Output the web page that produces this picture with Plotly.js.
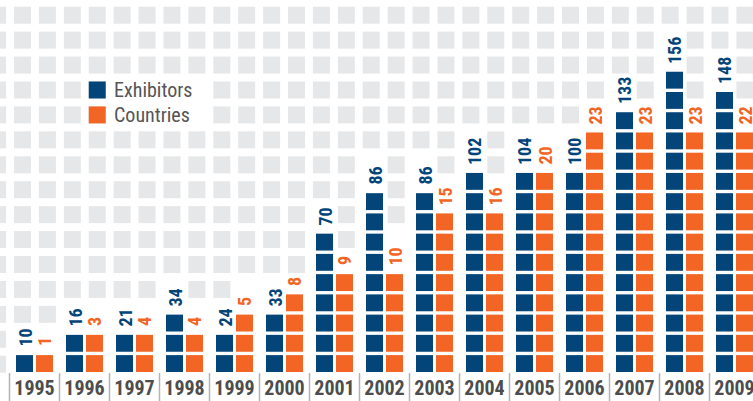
<!DOCTYPE html>
<html><head><meta charset="utf-8">
<script src="https://cdn.plot.ly/plotly-3.0.1.min.js"></script>
<style>html,body{margin:0;padding:0;background:#fff;}#chart{width:753px;height:401px;}</style>
</head><body><div id="chart"></div>
<script>
// ---- data ----
const years = ['1995','1996','1997','1998','1999','2000','2001','2002','2003','2004','2005','2006','2007','2008','2009'];
const exhibitors = [10,16,21,34,24,33,70,86,86,102,104,100,133,156,148];
const countries  = [1,3,4,4,5,8,9,10,15,16,20,23,23,23,22];
// number of stacked squares drawn for each bar (as counted in the picture)
const exhibitorBlocks = [1,2,2,3,2,3,7,9,9,10,10,10,13,15,14];
const countryBlocks   = [1,2,2,2,3,4,5,5,8,8,10,12,12,12,12];
const seriesNames  = ['Exhibitors','Countries'];
const seriesColors = ['#034479','#f26524'];

// ---- geometry / style ----
const F = '"Liberation Sans Narrow","Arial Narrow","Roboto Condensed","DejaVu Sans Condensed","Liberation Sans",sans-serif';
const W = 753, H = 401, PLOT_BOTTOM = 372;
const UNIT = 20.24, GROUP = 50, FIRST_CENTER = 34.5;
const xr0 = (0 - FIRST_CENTER) / GROUP, xr1 = (W - FIRST_CENTER) / GROUP;
const yr1 = PLOT_BOTTOM / UNIT;
const BAR_W = 17 / GROUP;
const offsets = [-18.5 / GROUP, 1.5 / GROUP];
const BLOCK_H = 16.9 / UNIT;
const DIGIT_PX = 8.3, LABEL_GAP_PX = 9;
const GRAY = '#e6e7e8';

const idx = years.map((_, i) => i);
const seriesVals = [exhibitors, countries];
const seriesBlocks = [exhibitorBlocks, countryBlocks];

function blockTrace(s) {
  const x = [], base = [], y = [];
  seriesBlocks[s].forEach((n, i) => {
    for (let k = 0; k < n; k++) { x.push(idx[i]); base.push(k); y.push(BLOCK_H); }
  });
  return {type:'bar', name:seriesNames[s], x, y, base, width:BAR_W, offset:offsets[s],
    marker:{color:seriesColors[s], line:{width:0}}, showlegend:false, hoverinfo:'skip'};
}
const traces = [blockTrace(0), blockTrace(1)];

// value labels, rotated, centred a little above each bar
const annotations = [];
seriesVals.forEach((vals, s) => {
  vals.forEach((v, i) => {
    const n = seriesBlocks[s][i];
    const lift = (-(1 - BLOCK_H) * UNIT + LABEL_GAP_PX + String(v).length * DIGIT_PX / 2) / UNIT;
    annotations.push({x:idx[i] + offsets[s] + BAR_W/2, y:n + lift, xref:'x', yref:'y',
      text:'<b>' + v + '</b>', showarrow:false, textangle:-90,
      font:{family:F, size:18, color:seriesColors[s]}});
  });
});

const GX0 = 14, GDX = 24.91, GY0 = 6.7, GDY = 24.93, SQ = 17;
const px2x = p => p / W, py2y = p => (PLOT_BOTTOM - p) / PLOT_BOTTOM;
const legendCells = [[3,3],[3,4]];
const shapes = [];

// regions kept free of background squares (bars + their labels, legend text)
const occupied = [];
seriesVals.forEach((vals, s) => {
  vals.forEach((v, i) => {
    const c = FIRST_CENTER + GROUP*i + offsets[s]*GROUP + 8.5;
    const barTop = PLOT_BOTTOM - (seriesBlocks[s][i] - 1 + BLOCK_H) * UNIT;
    const labelTop = barTop - LABEL_GAP_PX - String(v).length * DIGIT_PX;
    occupied.push({l:c-8.5, r:c+8.5, top:labelTop-2, bottom:9999});
  });
});
occupied.push({l:108, r:210, top:76, bottom:128});

for (let j = -1; j < 30; j++) {
  for (let k = 0; k < 15; k++) {
    const l = GX0 + GDX*j, t = GY0 + GDY*k, r = l + SQ, b = t + SQ;
    const hidden = occupied.some(o => l < o.r - 1 && r > o.l + 1 && b > o.top && t < o.bottom);
    if (hidden) continue;
    shapes.push({type:'rect', xref:'paper', yref:'paper', layer:'below',
      x0:px2x(l), x1:px2x(r), y0:py2y(b), y1:py2y(t), fillcolor:GRAY, line:{width:0}});
  }
}
legendCells.forEach(([j,k], s) => {
  const l = GX0 + GDX*j, t = GY0 + GDY*k;
  shapes.push({type:'rect', xref:'paper', yref:'paper', layer:'below',
    x0:px2x(l), x1:px2x(l+SQ), y0:py2y(t+SQ), y1:py2y(t), fillcolor:seriesColors[s], line:{width:0}});
  annotations.push({xref:'paper', yref:'paper', x:px2x(l+SQ+6), y:py2y(t+SQ/2), xanchor:'left', yanchor:'middle',
    text:seriesNames[s], showarrow:false, font:{family:F, size:20, color:'#555555'}});
});

// category separators below the axis
for (let i = 0; i <= years.length; i++) {
  const xp = (i - 0.5 - xr0) / (xr1 - xr0);
  shapes.push({type:'line', xref:'paper', yref:'paper', layer:'above',
    x0:xp, x1:xp, y0:py2y(373), y1:py2y(H), line:{color:'#b3b3b3', width:1.5}});
}

const layout = {
  width:W, height:H, margin:{l:0, r:0, t:0, b:H-PLOT_BOTTOM, pad:0},
  paper_bgcolor:'#ffffff', plot_bgcolor:'rgba(0,0,0,0)',
  barmode:'overlay', showlegend:false,
  xaxis:{type:'linear', range:[xr0, xr1], tickmode:'array', tickvals:idx, ticktext:years,
    showgrid:false, zeroline:false, showline:false, ticks:'', fixedrange:true,
    ticklabeloverflow:'allow', ticklabelstandoff:2,
    tickfont:{family:F, size:20, color:'#4d4d4d', weight:'bold'}},
  yaxis:{range:[0, yr1], showgrid:false, zeroline:false, showline:false, showticklabels:false, ticks:'', fixedrange:true},
  shapes, annotations
};

// keep rotated annotation groups rotated (CSS equivalent of Plotly's SVG rotate), re-applied after any redraw
function applyRotation(root) {
  root.querySelectorAll('.annotation-text-g').forEach(g => {
    const m = (g.getAttribute('transform') || '').match(/rotate\(\s*(-?[\d.]+)/);
    if (m && +m[1] !== 0) {
      const want = 'rotate(' + m[1] + 'deg)';
      if (g.style.transform !== want) {
        g.style.transformBox = 'fill-box';
        g.style.transformOrigin = 'center';
        g.style.transform = want;
      }
    }
  });
}
const chartDiv = document.getElementById('chart');
Plotly.newPlot(chartDiv, traces, layout, {displayModeBar:false, staticPlot:true}).then(gd => {
  applyRotation(gd);
  new MutationObserver(() => applyRotation(gd)).observe(gd, {subtree:true, childList:true, attributes:true, attributeFilter:['transform']});
  [0, 50, 200, 500, 1000, 2000].forEach(t => setTimeout(() => applyRotation(gd), t));
});
</script></body></html>
